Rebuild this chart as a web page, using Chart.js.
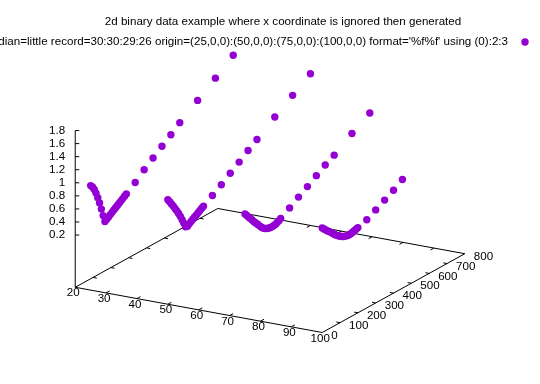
<!DOCTYPE html>
<html>
<head>
<meta charset="utf-8">
<script src="https://cdn.jsdelivr.net/npm/chart.js@4"></script>
<style>
  html, body { margin: 0; padding: 0; background: #ffffff; }
  canvas { display: block; }
</style>
</head>
<body>
<canvas id="chart" width="540" height="384"></canvas>
<script>
// Data: 4 binary records, x comes from the origin of each record
const titleText = "2d binary data example where x coordinate is ignored then generated";
const keyText = "binary endian=little record=30:30:29:26 origin=(25,0,0):(50,0,0):(75,0,0):(100,0,0) format='%f%f' using (0):2:3";
const origins = [25, 50, 75, 100];
const recordLengths = [30, 30, 29, 26];
const yValues = [0, 10, 20, 30, 40, 50, 60, 70, 80, 90, 100, 110, 120, 130, 140, 150, 160, 170, 180, 190, 200,
  250, 300, 350, 400, 450, 500, 600, 700, 800];
const zRecord1 = [1.0, 0.965, 0.91, 0.84, 0.755, 0.66, 0.55, 0.435, 0.33, 0.35, 0.37, 0.39, 0.41, 0.43, 0.45,
  0.47, 0.49, 0.51, 0.53, 0.55, 0.57, 0.67, 0.79, 0.895, 1.0, 1.1, 1.21, 1.4, 1.59, 1.79];
const zRecord2 = [1.0, 0.955, 0.905, 0.86, 0.805, 0.755, 0.7, 0.64, 0.575, 0.505, 0.435, 0.43, 0.45, 0.47, 0.49,
  0.51, 0.525, 0.545, 0.565, 0.585, 0.6, 0.687, 0.778, 0.877, 0.973, 1.076, 1.168, 1.363, 1.543, 1.723];
const zRecord3 = [1.0, 0.96, 0.92, 0.885, 0.845, 0.805, 0.77, 0.735, 0.7, 0.665, 0.635, 0.61, 0.595, 0.585, 0.578,
  0.575, 0.577, 0.583, 0.595, 0.61, 0.63, 0.715, 0.805, 0.89, 0.982, 1.07, 1.145, 1.325, 1.49];
const zRecord4 = [1.0, 0.97, 0.94, 0.91, 0.885, 0.855, 0.825, 0.795, 0.77, 0.745, 0.725, 0.705, 0.69, 0.68, 0.672,
  0.67, 0.672, 0.678, 0.687, 0.696, 0.705, 0.75, 0.825, 0.9, 0.975, 1.064];
const zRecords = [zRecord1, zRecord2, zRecord3, zRecord4];

// Tick labels
const xTicks = [20, 30, 40, 50, 60, 70, 80, 90, 100];
const yTicks = [0, 100, 200, 300, 400, 500, 600, 700, 800];
const zTicks = [0.2, 0.4, 0.6, 0.8, 1, 1.2, 1.4, 1.6, 1.8];

// Axis ranges (gnuplot default ticslevel 0.5 puts the base below zmin)
const xRange = [20, 100];
const yRange = [0, 800];
const zRange = [0.2, 1.8];
const ticsLevel = 0.5;
const zBase = zRange[0] - ticsLevel * (zRange[1] - zRange[0]);

// Fixed view (rot 60, 30): where the base corner sits and the step per unit on each axis
const view = { ox: 72.3, oy: 289.3, xx: 3.134, xy: 0.5775, yx: 0.1809, yy: -0.1006, zy: -66.69 };

function project(x, y, z) {
  return {
    x: view.ox + (x - xRange[0]) * view.xx + (y - yRange[0]) * view.yx,
    y: view.oy + (x - xRange[0]) * view.xy + (y - yRange[0]) * view.yy + (z - zBase) * view.zy,
  };
}

const pointColor = "#9400d3";
const font = "11.6px 'Liberation Sans', Arial, sans-serif";

const datasets = origins.map((x0, i) => ({
  label: "record " + (i + 1),
  data: zRecords[i].slice(0, recordLengths[i]).map((z, j) => project(x0, yValues[j], z)),
  backgroundColor: pointColor,
  borderWidth: 0,
  pointRadius: 3.7,
}));

// Draws the 3d base box, tics and all texts
const axes3d = {
  id: "axes3d",
  beforeDatasetsDraw(chart) {
    const c = chart.ctx;
    const sx = chart.scales.x, sy = chart.scales.y;
    const px = (p) => [sx.getPixelForValue(p.x), sy.getPixelForValue(p.y)];
    const line = (a, b) => {
      const p = px(a), q = px(b);
      c.beginPath();
      c.moveTo(p[0], p[1]);
      c.lineTo(q[0], q[1]);
      c.stroke();
    };
    c.save();
    c.strokeStyle = "#000000";
    c.lineWidth = 1;
    const A = project(xRange[0], yRange[0], zBase);
    const B = project(xRange[1], yRange[0], zBase);
    const C = project(xRange[1], yRange[1], zBase);
    const D = project(xRange[0], yRange[1], zBase);
    line(A, B);
    line(B, C);
    line(C, D);
    line(D, A);
    // z axis
    line(A, project(xRange[0], yRange[0], zRange[1]));

    // x tics on front and back edges
    const yTicLen = (yRange[1] - yRange[0]) * 0.025;
    xTicks.slice(1, -1).forEach((x) => {
      line(project(x, yRange[0], zBase), project(x, yRange[0] + yTicLen, zBase));
      line(project(x, yRange[1], zBase), project(x, yRange[1] - yTicLen, zBase));
    });
    const xTicLen = (xRange[1] - xRange[0]) * 0.015;
    yTicks.slice(1, -1).forEach((y) => {
      line(project(xRange[1], y, zBase), project(xRange[1] - xTicLen, y, zBase));
      line(project(xRange[0], y, zBase), project(xRange[0] + xTicLen, y, zBase));
    });
    zTicks.forEach((z) => {
      const p = px(project(xRange[0], yRange[0], z));
      c.beginPath();
      c.moveTo(p[0], p[1]);
      c.lineTo(p[0] + 4, p[1]);
      c.stroke();
    });
    c.restore();
  },
  afterDraw(chart) {
    const c = chart.ctx;
    const sx = chart.scales.x, sy = chart.scales.y;
    const px = (p) => [sx.getPixelForValue(p.x), sy.getPixelForValue(p.y)];
    c.save();
    c.fillStyle = "#000000";
    c.font = font;
    c.textBaseline = "middle";

    c.textAlign = "center";
    xTicks.forEach((x) => {
      const p = px(project(x, yRange[0], zBase));
      c.fillText(String(x), p[0] - 2, p[1] + 6);
    });
    c.textAlign = "left";
    yTicks.forEach((y) => {
      const p = px(project(xRange[1], y, zBase));
      c.fillText(String(y), p[0] + 9, p[1] + 3);
    });
    c.textAlign = "right";
    zTicks.forEach((z) => {
      const p = px(project(xRange[0], yRange[0], z));
      c.fillText(String(z), p[0] - 10, p[1]);
    });

    // title and key
    c.textAlign = "center";
    c.fillText(titleText, 283, 22);
    c.textAlign = "right";
    c.fillText(keyText, 508, 42);
    c.fillStyle = pointColor;
    c.beginPath();
    c.arc(525, 42, 3.7, 0, Math.PI * 2);
    c.fill();
    c.restore();
  },
};

new Chart(document.getElementById("chart").getContext("2d"), {
  type: "scatter",
  data: { datasets },
  options: {
    responsive: false,
    animation: false,
    layout: { padding: 0 },
    plugins: { legend: { display: false }, tooltip: { enabled: false } },
    scales: {
      x: { type: "linear", display: false, min: 0, max: 540 },
      y: { type: "linear", display: false, min: 0, max: 384, reverse: true },
    },
  },
  plugins: [axes3d],
});
</script>
</body>
</html>
